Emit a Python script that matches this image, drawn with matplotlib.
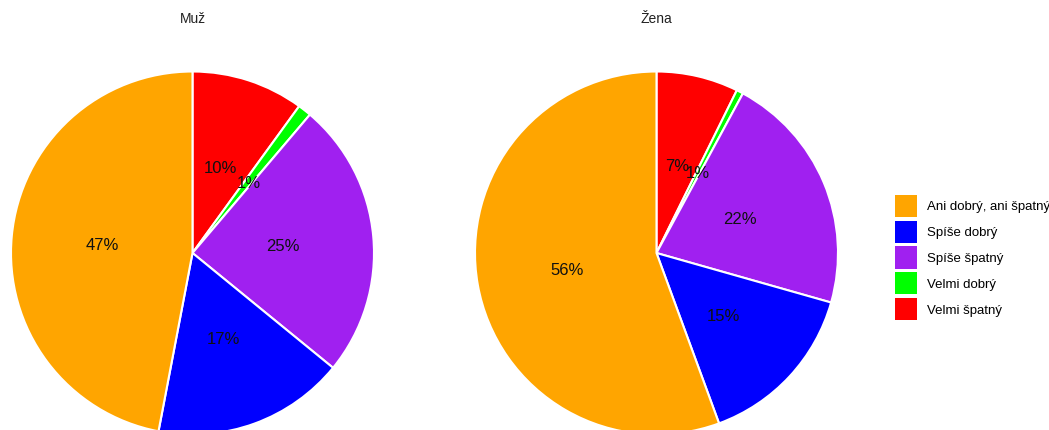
import matplotlib.pyplot as plt
from matplotlib.patches import Patch

plt.rcParams['font.family'] = ['Liberation Sans', 'DejaVu Sans']

# kategorie v pořadí kreslení (od 12 hodin po směru hodin)
categories = ['Velmi špatný', 'Velmi dobrý', 'Spíše špatný', 'Spíše dobrý', 'Ani dobrý, ani špatný']
colors = ['#FF0000', '#00FF00', '#A020F0', '#0000FF', '#FFA500']

muz_values = [10.0, 1.2, 24.7, 17.1, 47.0]
zena_values = [7.3, 0.6, 21.5, 15.0, 55.6]

legend_order = ['Ani dobrý, ani špatný', 'Spíše dobrý', 'Spíše špatný', 'Velmi dobrý', 'Velmi špatný']

W, H = 1049, 430
fig = plt.figure(figsize=(W / 100, H / 100), dpi=100)

r = 181.5
panels = [("Muž", muz_values, 192.5), ("Žena", zena_values, 656.5)]
cy = H - 253

for title, values, cx in panels:
    ax = fig.add_axes([(cx - r) / W, (cy - r) / H, 2 * r / W, 2 * r / H])
    ax.pie(values, colors=colors, startangle=90, counterclock=False,
           autopct='%1.0f%%', pctdistance=0.5, radius=1,
           wedgeprops={'edgecolor': 'white', 'linewidth': 1.5},
           textprops={'fontsize': 12, 'color': '#111111', 'va': 'center_baseline'})
    ax.set_xlim(-1, 1)
    ax.set_ylim(-1, 1)
    ax.set_aspect('auto')
    ax.axis('off')
    fig.text(cx / W, 1 - 19 / H, title, ha='center', va='center', fontsize=10, color='#222222')

handles = [Patch(facecolor=colors[categories.index(c)], edgecolor='none') for c in legend_order]
fig.legend(handles, legend_order, loc='center left', bbox_to_anchor=(895 / W, 1 - 257.5 / H),
           frameon=False, fontsize=9.5, handlelength=1.67, handleheight=2.19,
           labelspacing=0.30, handletextpad=0.76, borderpad=0, borderaxespad=0)

fig.savefig('out.png', dpi=100)
